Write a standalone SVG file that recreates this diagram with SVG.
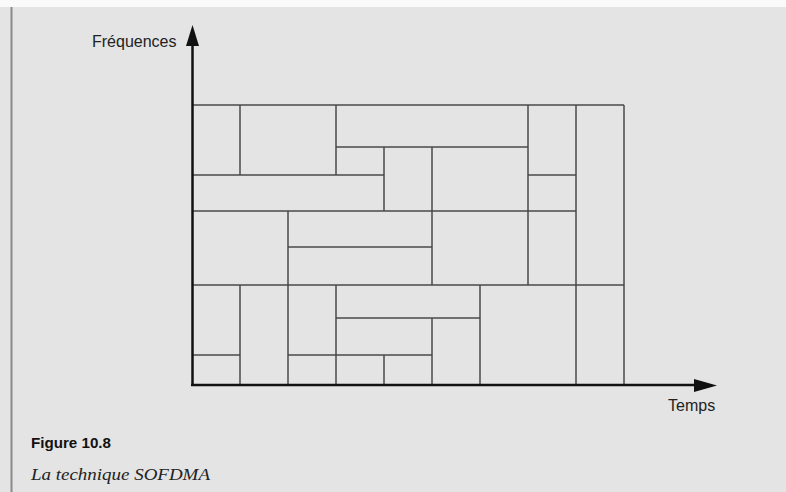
<svg xmlns="http://www.w3.org/2000/svg" width="786" height="492" viewBox="0 0 786 492">
  <style>
    .grid line { stroke: #4a4a4a; stroke-width: 1.5; }
    .axis { stroke: #111; stroke-width: 2.5; fill: none; }
    .head { fill: #111; }
    .lbl { font-family: "Liberation Sans", Arial, sans-serif; font-size: 16px; fill: #222; }
  </style>
  <rect x="0" y="0" width="786" height="492" fill="#e4e4e4"/>
  <rect x="0" y="0" width="786" height="7" fill="#fafafa"/>
  <line x1="11.5" y1="7" x2="11.5" y2="492" stroke="#8a8a8a" stroke-width="2"/>

  <g id="grid" class="grid">
    <line x1="192" y1="105" x2="624" y2="105"/>
    <line x1="336" y1="147" x2="528" y2="147"/>
    <line x1="192" y1="175" x2="384" y2="175"/>
    <line x1="528" y1="175" x2="576" y2="175"/>
    <line x1="192" y1="211" x2="576" y2="211"/>
    <line x1="288" y1="247" x2="432" y2="247"/>
    <line x1="192" y1="285" x2="624" y2="285"/>
    <line x1="336" y1="318" x2="480" y2="318"/>
    <line x1="192" y1="355" x2="240" y2="355"/>
    <line x1="288" y1="355" x2="432" y2="355"/>

    <line x1="240" y1="105" x2="240" y2="175"/>
    <line x1="336" y1="105" x2="336" y2="175"/>
    <line x1="384" y1="147" x2="384" y2="211"/>
    <line x1="432" y1="147" x2="432" y2="285"/>
    <line x1="528" y1="105" x2="528" y2="285"/>
    <line x1="576" y1="105" x2="576" y2="385"/>
    <line x1="624" y1="105" x2="624" y2="385"/>
    <line x1="288" y1="211" x2="288" y2="385"/>
    <line x1="240" y1="285" x2="240" y2="385"/>
    <line x1="336" y1="285" x2="336" y2="385"/>
    <line x1="384" y1="355" x2="384" y2="385"/>
    <line x1="432" y1="318" x2="432" y2="385"/>
    <line x1="480" y1="285" x2="480" y2="385"/>
  </g>

  <g id="axes">
    <path class="axis" d="M192.5 386 V44 M191 385 H695"/>
    <polygon class="head" points="192.5,25 186,46 199,46"/>
    <polygon class="head" points="717,385.5 694,379 694,392"/>
  </g>

  <g id="labels">
    <text class="lbl" x="92" y="47">Fréquences</text>
    <text class="lbl" x="668" y="411">Temps</text>
    <text x="31" y="448" font-family="'Liberation Sans', Arial, sans-serif" font-weight="bold" font-size="15" fill="#111" textLength="80" lengthAdjust="spacingAndGlyphs">Figure 10.8</text>
    <text x="31" y="480" font-family="'Liberation Serif', 'Times New Roman', serif" font-style="italic" font-size="17" fill="#222" textLength="179" lengthAdjust="spacingAndGlyphs">La technique SOFDMA</text>
  </g>
</svg>
